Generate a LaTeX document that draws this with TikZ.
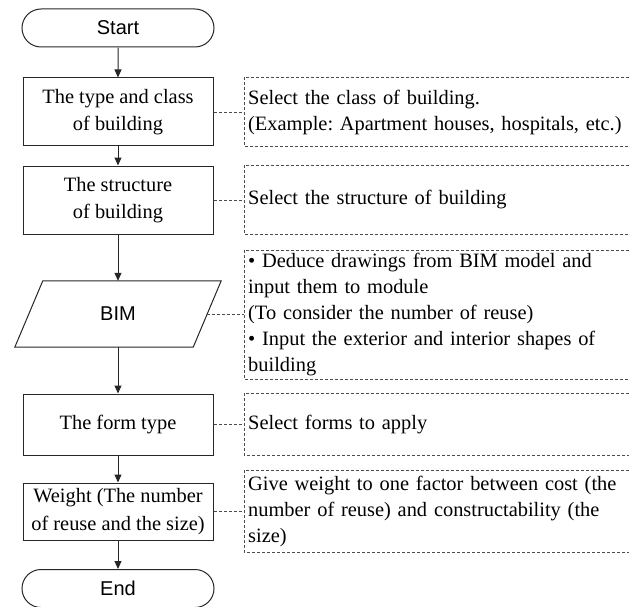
\documentclass[tikz,border=0pt]{standalone}
\usepackage{fontspec}
\setmainfont{Liberation Serif}
\newfontfamily\arialf{Liberation Sans}
\usetikzlibrary{arrows.meta,shapes.misc}
\frenchspacing
\begin{document}
\begin{tikzpicture}[x=1pt,y=-1pt,
  solidline/.style={draw=black!85, line width=1pt},
  terminal/.style={rounded rectangle, solidline, minimum width=192pt, minimum height=38pt, inner sep=0pt, font=\arialf\fontsize{20}{24}\selectfont},
  procbox/.style={rectangle, solidline, minimum width=190pt, inner sep=0pt, align=center, font=\fontsize{20.4}{27.5}\selectfont},
  annot/.style={rectangle, minimum width=385pt, inner xsep=4pt, inner ysep=0pt, text width=377pt, align=left, anchor=west, font=\fontsize{20.4}{26}\selectfont},
  frame/.style={draw=black!70, line width=0.8pt, dash pattern=on 3pt off 2pt},
  flow/.style={solidline, -{Triangle[length=8pt,width=7pt]}},
  link/.style={frame}
]
\useasboundingbox (0,0) rectangle (629,607);

% main flow
\node[terminal] (start) at (118,28) {Start};
\node[procbox, minimum height=68pt] (b1) at (118,112) {The type and class\\of building};
\node[procbox, minimum height=68pt] (b2) at (118,200) {The structure\\of building};
\node[rectangle, minimum width=178pt, minimum height=66pt, inner sep=0pt, font=\arialf\fontsize{20}{24}\selectfont] (bim) at (118,314) {BIM};
\draw[solidline] ([xshift=14pt]bim.north west) -- ([xshift=14pt]bim.north east)
  -- ([xshift=-14pt]bim.south east) -- ([xshift=-14pt]bim.south west) -- cycle;
\node[procbox, minimum height=61pt] (b4) at (118,424.5) {The form type};
\node[procbox, minimum height=57pt] (b5) at (118,511.5) {Weight (The number\\of reuse and the size)};
\node[terminal] (end) at (118,588.5) {End};

\draw[flow] (start) -- (b1);
\draw[flow] (b1) -- (b2);
\draw[flow] (b2) -- (bim);
\draw[flow] (bim) -- (b4);
\draw[flow] (b4) -- (b5);
\draw[flow] (b5) -- (end);

% annotations
\node[annot, minimum height=68pt] (a1) at (244,112) {Select the class of building.\\(Example: Apartment houses, hospitals, etc.)};
\node[annot, minimum height=68pt] (a2) at (244,200) {Select the structure of building};
\node[annot, minimum height=128pt] (a3) at (244,315) {\textbullet{} Deduce drawings from BIM model and\\input them to module\\(To consider the number of reuse)\\\textbullet{} Input the exterior and interior shapes of\\building};
\node[annot, minimum height=61pt] (a4) at (244,424.5) {Select forms to apply};
\node[annot, minimum height=81pt] (a5) at (244,511.5) {Give weight to one factor between cost (the\\number of reuse) and constructability (the\\size)};

\foreach \a in {a1,a2,a3,a4,a5}{
  \draw[frame] (\a.north east) -- (\a.north west) -- (\a.south west) -- (\a.south east);
}

\draw[link] (b1.east) -- (b1.east -| a1.west);
\draw[link] (b2.east) -- (b2.east -| a2.west);
\draw[link] (bim.east) -- (bim.east -| a3.west);
\draw[link] (b4.east) -- (b4.east -| a4.west);
\draw[link] (b5.east) -- (b5.east -| a5.west);
\end{tikzpicture}
\end{document}
